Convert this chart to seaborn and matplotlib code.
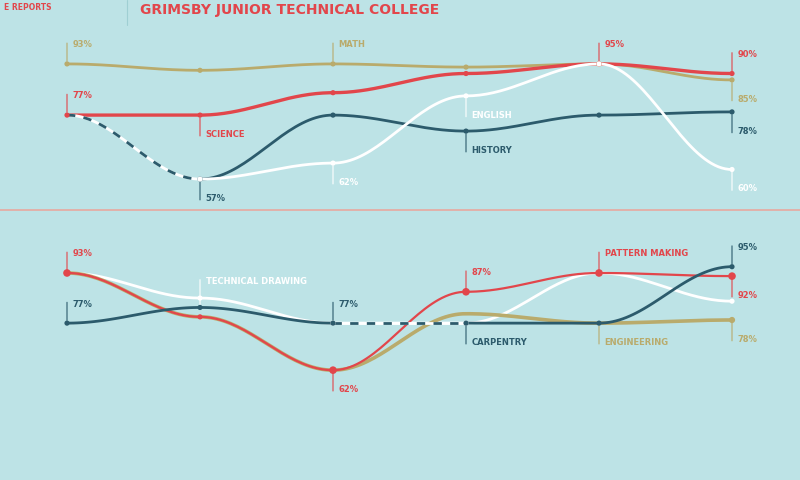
import matplotlib
matplotlib.use("Agg")
import matplotlib.pyplot as plt
import numpy as np
import pandas as pd
import seaborn as sns

BG = "#bde3e6"
RED = "#e2464b"
GOLD = "#b9ab6c"
DARK = "#2c5b6c"
WHITE = "#ffffff"

x_pos = [0, 1, 2, 3, 4, 5]

# top panel: academic subjects
math_vals = [93, 91, 93, 92, 93, 88]
science_vals = [77, 77, 84, 90, 93, 90]
history_vals = [77, 57, 77, 72, 77, 78]
english_vals = [None, 57, 62, 83, 93, 60]

# bottom panel: trades
carpentry_vals = [77, 82, 77, 77, 77, 95]
pattern_vals = [93, 79, 62, 87, 93, 92]
drawing_vals = [93, 85, 77, 77, 93, 84]
engineering_vals = [93, 79, 62, 80, 77, 78]


def smooth(xs, ys, n=40):
    # cosine easing between points, flat at each marker
    pts = [(x, y) for x, y in zip(xs, ys) if y is not None]
    out_x, out_y = [], []
    for (x0, y0), (x1, y1) in zip(pts[:-1], pts[1:]):
        t = np.linspace(0, 1, n)
        s = (1 - np.cos(np.pi * t)) / 2
        out_x += list(x0 + (x1 - x0) * t)
        out_y += list(y0 + (y1 - y0) * s)
    return pd.DataFrame({"x": out_x, "y": out_y})


def curve(ax, xs, ys, color, lw=2.0, dashed=False, markers=True):
    df = smooth(xs, ys)
    if dashed:
        sns.lineplot(data=df, x="x", y="y", ax=ax, color=WHITE, lw=lw, sort=False)
        sns.lineplot(data=df, x="x", y="y", ax=ax, color=color, lw=lw, sort=False,
                     linestyle=(0, (3, 3)))
    else:
        sns.lineplot(data=df, x="x", y="y", ax=ax, color=color, lw=lw, sort=False)
    if markers:
        m = pd.DataFrame({"x": xs, "y": ys}).dropna()
        sns.scatterplot(data=m, x="x", y="y", ax=ax, color=color, s=14,
                        edgecolor="none", zorder=5)


def tag(ax, x, y, text, color, up=True, length=17):
    d = length if up else -length
    ax.annotate("", xy=(x, y), xytext=(0, d), textcoords="offset points",
                arrowprops=dict(arrowstyle="-", color=color, lw=0.8))
    ax.annotate(text, xy=(x, y), xytext=(4, d), textcoords="offset points",
                ha="left", va="top" if up else "bottom", color=color,
                fontsize=6, fontweight="bold", family="DejaVu Sans Condensed")


sns.set_theme(style="white")
fig = plt.figure(figsize=(8, 4.8), dpi=100, facecolor=BG)

xl = (-27 / 133, 5 + 28 / 133)
ax1 = fig.add_axes([40 / 800, 1 - 205 / 480, 720 / 800, 175 / 480])
ax2 = fig.add_axes([40 / 800, 1 - 420 / 480, 720 / 800, 200 / 480])
for ax in (ax1, ax2):
    ax.set_facecolor(BG)
    ax.set_xlim(*xl)
    ax.axis("off")
ax1.set_ylim(48.9, 103.6)
ax2.set_ylim(46.1, 109.9)

# top panel
curve(ax1, x_pos, math_vals, GOLD)
curve(ax1, x_pos, science_vals, RED, lw=2.4)
curve(ax1, x_pos[:2], history_vals[:2], DARK, dashed=True, markers=False)
curve(ax1, x_pos[1:], history_vals[1:], DARK)
curve(ax1, x_pos, english_vals, WHITE)

tag(ax1, 0, 93, "93%", GOLD)
tag(ax1, 2, 93, "MATH", GOLD)
tag(ax1, 4, 93, "95%", RED)
tag(ax1, 5, 90, "90%", RED)
tag(ax1, 0, 77, "77%", RED)
tag(ax1, 1, 77, "SCIENCE", RED, up=False)
tag(ax1, 1, 57, "57%", DARK, up=False)
tag(ax1, 2, 62, "62%", WHITE, up=False)
tag(ax1, 3, 83, "ENGLISH", WHITE, up=False)
tag(ax1, 3, 72, "HISTORY", DARK, up=False)
tag(ax1, 5, 88, "85%", GOLD, up=False)
tag(ax1, 5, 78, "78%", DARK, up=False)
tag(ax1, 5, 60, "60%", WHITE, up=False)

# bottom panel
curve(ax2, x_pos, drawing_vals, WHITE)
curve(ax2, x_pos, engineering_vals, GOLD, lw=2.6, markers=False)
curve(ax2, x_pos, pattern_vals, RED, lw=1.6)
curve(ax2, x_pos[:3], carpentry_vals[:3], DARK)
curve(ax2, x_pos[2:4], carpentry_vals[2:4], DARK, dashed=True, markers=False)
curve(ax2, x_pos[3:], carpentry_vals[3:], DARK)
sns.scatterplot(x=[0, 2, 3, 4, 5], y=[93, 62, 87, 93, 92], ax=ax2, color=RED,
                s=30, edgecolor="none", zorder=6)
sns.scatterplot(x=[5], y=[78], ax=ax2, color=GOLD, s=20, edgecolor="none", zorder=6)

tag(ax2, 0, 93, "93%", RED)
tag(ax2, 0, 77, "77%", DARK)
tag(ax2, 1, 82, "TECHNICAL DRAWING", WHITE, length=22)
tag(ax2, 2, 77, "77%", DARK)
tag(ax2, 2, 62, "62%", RED, up=False)
tag(ax2, 3, 87, "87%", RED)
tag(ax2, 3, 77, "CARPENTRY", DARK, up=False)
tag(ax2, 4, 93, "PATTERN MAKING", RED)
tag(ax2, 4, 77, "ENGINEERING", GOLD, up=False)
tag(ax2, 5, 95, "95%", DARK)
tag(ax2, 5, 92, "92%", RED, up=False)
tag(ax2, 5, 78, "78%", GOLD, up=False)

# header and separator
fig.lines.append(plt.Line2D([0, 1], [1 - 210 / 480] * 2, transform=fig.transFigure,
                            color="#e8a9a0", lw=1.2))
fig.lines.append(plt.Line2D([127 / 800] * 2, [1, 1 - 25 / 480], transform=fig.transFigure,
                            color="#9fcfd3", lw=0.8))
fig.text(140 / 800, 1 - 10 / 480, "GRIMSBY JUNIOR TECHNICAL COLLEGE", color=RED,
         fontsize=10, fontweight="bold", va="center", ha="left")
fig.text(4 / 800, 1 - 8 / 480, "E REPORTS", color=RED, fontsize=5.5,
         fontweight="bold", va="center", ha="left")

fig.savefig("out.png", dpi=100, facecolor=BG)
